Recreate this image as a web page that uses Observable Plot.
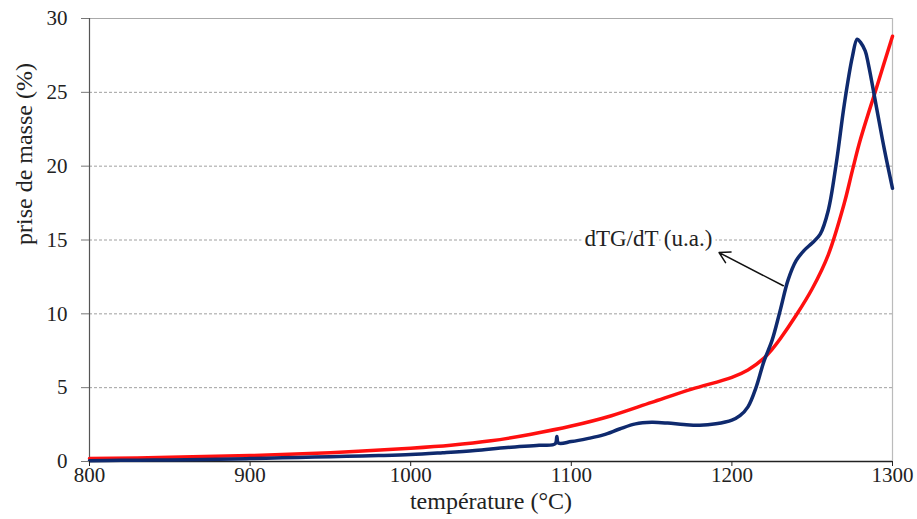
<!DOCTYPE html>
<html><head><meta charset="utf-8">
<script src="https://cdn.jsdelivr.net/npm/d3@7"></script>
<script src="https://cdn.jsdelivr.net/npm/@observablehq/plot@0.6"></script>
<style>
body{margin:0;background:#fff;}
#chart svg{font-family:"Liberation Serif","DejaVu Serif",serif;}
</style></head><body><div id="chart"></div>
<script>
const tgTemp = [800,850,900,950,1000,1025,1050,1075,1100,1125,1150,1175,1200,1210,1220,1225,1230,1240,1250,1260,1270,1275,1280,1290,1300];
const tgValue = [0.2,0.28,0.4,0.6,0.9,1.1,1.4,1.85,2.4,3.1,4.0,4.9,5.7,6.2,7.0,7.6,8.3,9.9,11.7,14.0,17.5,19.7,21.8,25.3,28.8];
const dtgTemp = [800,820,840,860,880,900,920,940,960,980,1000,1020,1040,1060,1080,1090,1091,1092,1100,1110,1120,1130,1140,1150,1160,1170,1180,1190,1200,1205,1210,1215,1220,1225,1230,1235,1240,1245,1250,1255,1260,1265,1270,1275,1278,1280,1283,1285,1290,1295,1300];
const dtgValue = [0.05,0.08,0.1,0.12,0.15,0.2,0.25,0.3,0.35,0.4,0.47,0.6,0.75,0.95,1.1,1.2,1.7,1.25,1.35,1.55,1.8,2.2,2.55,2.65,2.6,2.5,2.45,2.55,2.8,3.1,3.7,5.0,6.8,8.2,10.2,12.3,13.6,14.3,14.8,15.4,17.0,20.2,24.2,27.4,28.6,28.4,27.8,26.9,24.0,21.1,18.5];
const xTicks = [800,900,1000,1100,1200,1300];
const yTicks = [0,5,10,15,20,25,30];
const gridY = [5,10,15,20,25];
const annotation = {text:"dTG/dT (u.a.)", x:1148, y:15.1, ax1:1232, ay1:11.9, ax2:1192, ay2:14.15};

const tg = tgTemp.map((t,i)=>({t, v:tgValue[i]}));
const dtg = dtgTemp.map((t,i)=>({t, v:dtgValue[i]}));

const chart = Plot.plot({
  width:917, height:519,
  marginLeft:89, marginRight:25, marginTop:18, marginBottom:58,
  style:{fontFamily:'"Liberation Serif", serif', fontSize:"21px", color:"#222", background:"#fff"},
  x:{domain:[800,1300], label:null},
  y:{domain:[0,30], label:null},
  marks:[
    Plot.ruleY(gridY, {stroke:"#888", strokeDasharray:"3,2", strokeWidth:0.8}),
    Plot.ruleY([30], {stroke:"#aaa", strokeWidth:1.2}),
    Plot.ruleX([1300], {stroke:"#bbb", strokeWidth:1.2}),
    Plot.ruleX([800], {stroke:"#555", strokeWidth:1.2}),
    Plot.ruleY([0], {stroke:"#222", strokeWidth:1.5}),
    Plot.line(tg, {x:"t", y:"v", stroke:"#ff1010", strokeWidth:3.5, curve:"catmull-rom"}),
    Plot.line(dtg, {x:"t", y:"v", stroke:"#0f2a6e", strokeWidth:3.5, curve:"catmull-rom"}),
    Plot.text([annotation], {x:"x", y:"y", text:"text", fontSize:23, fill:"#222", stroke:"white", strokeWidth:8, paintOrder:"stroke"}),
    Plot.arrow([annotation], {x1:"ax1", y1:"ay1", x2:"ax2", y2:"ay2", stroke:"#111", strokeWidth:1.5, headLength:12, bend:0}),
    Plot.axisX({ticks:xTicks, tickSize:5, tickPadding:1, fontSize:21, tickFormat:d3.format("d"), stroke:"#222"}),
    Plot.axisY({ticks:yTicks, tickSize:8, tickPadding:14, fontSize:21, tickFormat:d3.format("d"), stroke:"#777"}),
    Plot.text(["température (°C)"], {frameAnchor:"bottom", dy:47, fontSize:24, fill:"#222"}),
    Plot.text(["prise de masse (%)"], {frameAnchor:"left", dx:-65, dy:5, rotate:-90, fontSize:24, fill:"#222"})
  ]
});
document.getElementById("chart").appendChild(chart);
</script></body></html>
